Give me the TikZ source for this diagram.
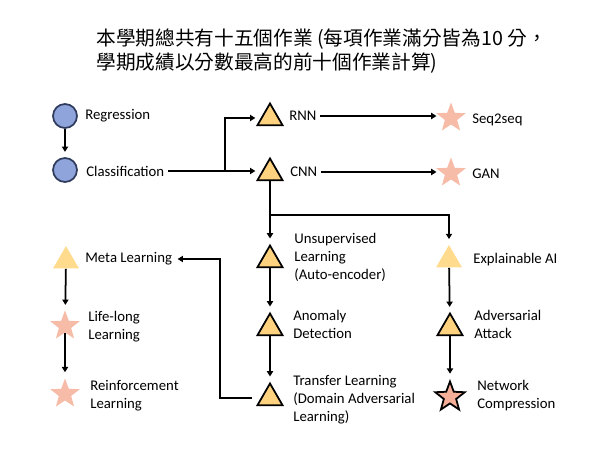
\documentclass[tikz,border=0pt]{standalone}
\usepackage{fontspec}
\setmainfont{Carlito}
\newfontfamily\cjkfont{Noto Sans CJK TC}
\usepackage{xcolor}
\usepackage{tikz}
\usetikzlibrary{positioning, arrows.meta, shapes.geometric}
\definecolor{NodeBlue}{HTML}{8FA4DA}
\definecolor{EdgeBlue}{HTML}{2F3C5E}
\definecolor{TriGold}{HTML}{FFD27F}
\definecolor{TriPale}{HTML}{FFDB8E}
\definecolor{StarPink}{HTML}{F5AE97}
\definecolor{StarPale}{HTML}{F7BCA7}

\begin{document}
\begin{tikzpicture}[
  x=0.02cm, y=-0.02cm,
  >={Triangle[length=3pt, width=3.5pt]},
  conn/.style={->, line width=1pt, shorten >=3pt},
  circ/.style={circle, draw=EdgeBlue, fill=NodeBlue, line width=1pt,
               minimum size=0.48cm, inner sep=0pt},
  tri/.style={regular polygon, regular polygon sides=3, draw=black, fill=TriGold,
              line width=1pt, minimum size=0.58cm, inner sep=0pt},
  tripale/.style={regular polygon, regular polygon sides=3, fill=TriPale,
                  minimum size=0.6cm, inner sep=0pt},
  starbox/.style={star, star points=5, star point ratio=2.4, draw=black,
                  fill=StarPink, line width=1pt, minimum size=0.62cm, inner sep=0pt},
  starpale/.style={star, star points=5, star point ratio=2.4, fill=StarPale,
                   minimum size=0.62cm, inner sep=0pt},
  lbl/.style={font=\fontsize{8.4}{10.2}\selectfont, anchor=west, align=left,
              inner sep=0pt},
]
  \useasboundingbox (0,0) rectangle (600,450);

  % Title: two lines at the top
  \node[anchor=west, align=left, inner sep=0pt,
        font=\cjkfont\fontsize{11.2}{13.4}\selectfont]
    (title) at (96,51) {本學期總共有十五個作業 (每項作業滿分皆為10 分，\\學期成績以分數最高的前十個作業計算)};

  % Regression and Classification: top-left
  \node[circ] (reg) at (65,116) {};
  \node[lbl] (reg-l) at (85,116) {Regression};
  \node[circ] (cls) at (65,170) {};
  \node[lbl] (cls-l) at (86,171) {Classification};

  % RNN / CNN and what follows them
  \node[tri] (rnn) at (270,118) {};
  \node[lbl] (rnn-l) at (289,116) {RNN};
  \node[tri] (cnn) at (270,173) {};
  \node[lbl] (cnn-l) at (290,172) {CNN};
  \node[starpale] (s2s) at (451,118) {};
  \node[lbl] (s2s-l) at (472,120) {Seq2seq};
  \node[starpale] (gan) at (451,173) {};
  \node[lbl] (gan-l) at (472,174) {GAN};

  % middle column
  \node[tri] (unsup) at (270,260) {};
  \node[lbl] (unsup-l) at (294,257) {Unsupervised\\Learning\\(Auto-encoder)};
  \node[tri] (anom) at (270,328) {};
  \node[lbl] (anom-l) at (293,324.5) {Anomaly\\Detection};
  \node[tri] (trans) at (270,398) {};
  \node[lbl] (trans-l) at (293,400) {Transfer Learning\\(Domain Adversarial\\Learning)};

  % right column
  \node[tripale] (xai) at (449,260) {};
  \node[lbl] (xai-l) at (473,260) {Explainable AI};
  \node[tri] (adv) at (450,328) {};
  \node[lbl] (adv-l) at (474,324.5) {Adversarial\\Attack};
  \node[starbox] (comp) at (450,397) {};
  \node[lbl] (comp-l) at (477,396) {Network\\Compression};

  % bottom-left column
  \node[tripale] (meta) at (66,261) {};
  \node[lbl] (meta-l) at (85,259) {Meta Learning};
  \node[starpale] (life) at (65,326) {};
  \node[lbl] (life-l) at (88,327) {Life-long\\Learning};
  \node[starpale] (rl) at (65,394) {};
  \node[lbl] (rl-l) at (90,395.5) {Reinforcement\\Learning};

  %% connectors
  \draw[conn] (reg) -- (cls);
  \draw[conn, shorten <=2pt] (cls-l.east) -- (cls-l.east -| cnn.west);
  \coordinate (split) at (225,171);
  \draw[conn] (split) |- (rnn);
  \draw[conn, shorten <=2pt] (rnn-l.east) -- (rnn-l.east -| s2s.west);
  \draw[conn, shorten <=2pt] (cnn-l.east) -- (cnn-l.east -| gan.west);

  \draw[conn] (cnn) -- (unsup);
  \coordinate (fork) at (270,215);
  \draw[conn] (fork) -| (xai);
  \draw[conn] (unsup) -- (anom);
  \draw[conn] (anom) -- (trans);
  \draw[conn] (xai) -- (adv);
  \draw[conn] (adv) -- (comp);
  \draw[conn] (meta) -- (life);
  \draw[conn] (life) -- (rl);

  %% Transfer Learning back to Meta Learning
  \coordinate (back) at (220,259);
  \draw[conn, shorten <=5pt] (trans.west) -| (back) -- (meta-l.east);
\end{tikzpicture}
\end{document}
